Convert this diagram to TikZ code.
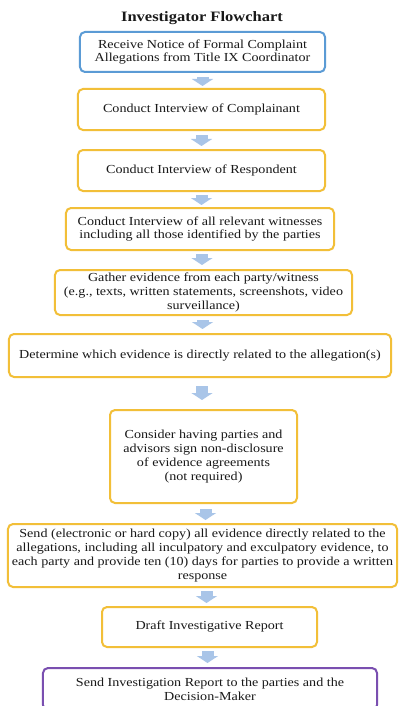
\documentclass[tikz,border=0pt]{standalone}
\usepackage{fontspec}
\setmainfont{Liberation Serif}[FakeStretch=1.15]
\usetikzlibrary{arrows.meta}

\definecolor{stepblue}{HTML}{5B9BD5}
\definecolor{stepgold}{HTML}{F2BF38}
\definecolor{steppurple}{HTML}{7A4FB0}
\definecolor{flowblue}{HTML}{A9C5E8}

\tikzset{
  stepbox/.style={draw=stepgold, line width=2bp, rounded corners=5bp, fill=white,
    align=center, inner sep=0pt, text=black!90,
    font=\fontsize{12.3}{13.9}\selectfont},
  startbox/.style={stepbox, draw=stepblue},
  endbox/.style={stepbox, draw=steppurple},
  flow/.style={draw=flowblue, line width=12bp,
    -{Triangle[width=21bp,length=7bp]}},
  heading/.style={font=\fontsize{14.4}{16}\selectfont\bfseries, text=black!90}
}

\begin{document}
\begin{tikzpicture}[x=1bp, y=-1bp]
  \useasboundingbox (0,0) rectangle (400,706);
  \clip (0,0) rectangle (400,706);
  \fill[white] (0,0) rectangle (400,706);

  \node[heading] (title) at (202,18) {Investigator Flowchart};

  \node[startbox, minimum width=245bp, minimum height=40bp] (b1) at (202.5,52)
    {Receive Notice of Formal Complaint\\Allegations from Title IX Coordinator};
  \node[stepbox, minimum width=247bp, minimum height=41bp] (b2) at (201.5,109.5)
    {Conduct Interview of Complainant};
  \node[stepbox, minimum width=247bp, minimum height=41bp] (b3) at (201.5,170.5)
    {Conduct Interview of Respondent};
  \node[stepbox, minimum width=268bp, minimum height=42bp] (b4) at (200,229)
    {Conduct Interview of all relevant witnesses\\including all those identified by the parties};
  \node[stepbox, minimum width=297bp, minimum height=45bp] (b5) at (203.5,292.5)
    {Gather evidence from each party/witness\\(e.g., texts, written statements, screenshots, video\\surveillance)};
  \node[stepbox, minimum width=382bp, minimum height=43bp] (b6) at (200,355.5)
    {Determine which evidence is directly related to the allegation(s)};
  \node[stepbox, minimum width=187bp, minimum height=93bp] (b7) at (203.5,456.5)
    {Consider having parties and\\advisors sign non-disclosure\\of evidence agreements\\(not required)};
  \node[stepbox, minimum width=389bp, minimum height=63bp] (b8) at (202.5,555.5)
    {Send (electronic or hard copy) all evidence directly related to the\\allegations, including all inculpatory and exculpatory evidence, to\\each party and provide ten (10) days for parties to provide a written\\response};
  \node[stepbox, minimum width=215bp, minimum height=40bp] (b9) at (209.5,627)
    {Draft Investigative Report};
  \node[endbox, minimum width=334bp, minimum height=42bp] (b10) at (210,689)
    {Send Investigation Report to the parties and the\\Decision-Maker};

  % block arrows between consecutive steps
  \draw[flow, shorten <=4bp, shorten >=2bp] (b1.south) -- (b1.south |- b2.north);
  \draw[flow, shorten <=4bp, shorten >=3bp] (b2.south) -- (b2.south |- b3.north);
  \draw[flow, shorten <=3bp, shorten >=2bp] (b3.south) -- (b3.south |- b4.north);
  \draw[flow, shorten <=3bp, shorten >=4bp] ([xshift=2bp]b4.south) -- ([xshift=2bp]b4.south |- b5.north);
  \draw[flow, shorten <=4bp, shorten >=4bp] ([xshift=-1bp]b5.south) -- ([xshift=-1bp]b5.south |- b6.north);
  \draw[flow, shorten <=8bp, shorten >=9bp] ([xshift=2bp]b6.south) -- ([xshift=2bp]b6.south |- b7.north);
  \draw[flow, shorten <=5bp, shorten >=3bp] ([xshift=2bp]b7.south) -- ([xshift=2bp]b7.south |- b8.north);
  \draw[flow, shorten <=3bp, shorten >=3bp] ([xshift=4bp]b8.south) -- ([xshift=4bp]b8.south |- b9.north);
  \draw[flow, shorten <=3bp, shorten >=4bp] ([xshift=-2bp]b9.south) -- ([xshift=-2bp]b9.south |- b10.north);
\end{tikzpicture}
\end{document}
